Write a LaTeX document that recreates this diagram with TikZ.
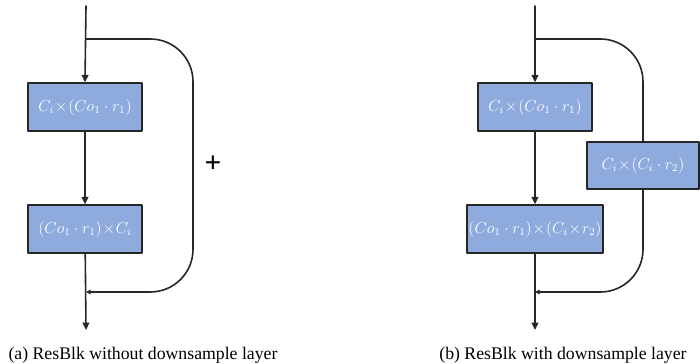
\documentclass[tikz,border=0pt]{standalone}
\usepackage{amsmath}
\usepackage[no-math]{fontspec}
\setmainfont{Liberation Serif}
\usepackage{tikz}
\usetikzlibrary{arrows.meta}
\definecolor{blkfill}{HTML}{8FAADC}
\definecolor{blkline}{HTML}{262626}
\newcommand\xx{\!\times\!}

\tikzset{
  blk/.style={draw=blkline,line width=1.1pt,fill=blkfill,text=white,
    minimum width=85.5pt,minimum height=36pt,inner sep=0pt,
    font=\fontsize{11.5}{13}\selectfont},
  flow/.style={line width=1.2pt,draw=blkline},
  subcap/.style={font=\fontsize{13.3}{16}\selectfont}
}

\begin{document}
\begin{tikzpicture}[line cap=round,line join=round,>={Triangle[length=5.5pt,width=5pt]},x=0.75pt,y=-0.75pt]
\useasboundingbox (0,0) rectangle (700,364);
% (a) block without downsample
\coordinate (inA) at (86,6);
\coordinate (brA) at (86,39);
\coordinate (jnA) at (86,292);
\coordinate (outA) at (86,330);
\node[blk] (convA1) at (85,107) {$C_i\xx(Co_1\cdot r_1)$};
\node[blk] (convA2) at (85,229) {$(Co_1\cdot r_1)\xx C_i$};
\draw[flow,->] (inA) -- (convA1.north);
\draw[flow,->] (convA1) -- (convA2);
\draw[flow,->] (convA2) -- (outA);
\draw[flow,-{Triangle[length=3.5pt,width=3.5pt]},rounded corners=32pt] (brA) -- ++(107,0) |- (jnA);
\node[font=\bfseries\fontsize{22}{22}\selectfont] (plusA) at (213,164) {+};
\node[subcap] (capA) at (143,355) {(a) ResBlk without downsample layer};
% (b) block with downsample
\coordinate (inB) at (535,6);
\coordinate (brB) at (535,39);
\coordinate (jnB) at (535,292);
\coordinate (outB) at (535,330);
\node[blk] (convB1) at (535,107) {$C_i\xx(Co_1\cdot r_1)$};
\node[blk,minimum width=102pt] (convB2) at (535,229) {$(Co_1\cdot r_1)\xx(C_i\xx r_2)$};
\node[blk,minimum width=84pt,minimum height=35pt] (downB) at (643,165.5) {$C_i\xx(C_i\cdot r_2)$};
\draw[flow,->] (inB) -- (convB1.north);
\draw[flow,->] (convB1) -- (convB2);
\draw[flow,->] (convB2) -- (outB);
\draw[flow,rounded corners=32pt] (brB) -| (downB.north);
\draw[flow,-{Triangle[length=3.5pt,width=3.5pt]},rounded corners=32pt] (downB.south) |- (jnB);
\node[subcap] (capB) at (563,355) {(b) ResBlk with downsample layer};
\end{tikzpicture}
\end{document}
